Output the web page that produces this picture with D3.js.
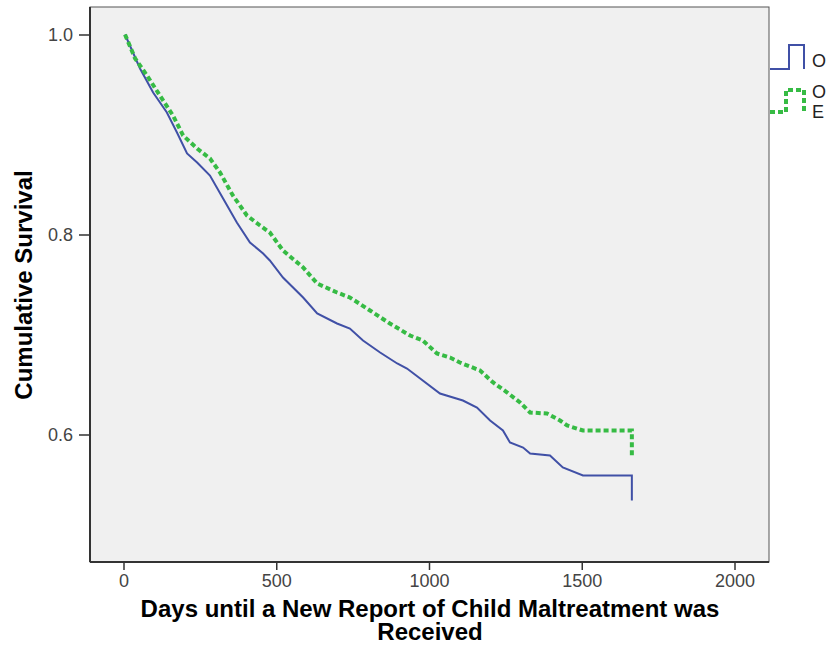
<!DOCTYPE html>
<html lang="en">
<head>
    <meta charset="UTF-8">
    <title>Cumulative Survival</title>
    <style>
        body { margin: 0; background: #fff; }
        text { font-family: "Liberation Sans", Arial, sans-serif; }
    </style>
</head>
<script src="https://d3js.org/d3.v7.min.js"></script>
<body>
    <div id="chart"></div>
</body>
<script>
const width = 828
const height = 663

// days / cumulative survival
const blueDays = [5, 54, 97, 142, 175, 208, 241, 283, 326, 371, 414, 457, 479, 522, 588, 634, 699, 741, 784, 840, 896, 928, 1036, 1111, 1157, 1200, 1242, 1265, 1308, 1331, 1396, 1438, 1504, 1664, 1664]
const blueSurv = [1.0, 0.966, 0.942, 0.922, 0.902, 0.881, 0.872, 0.859, 0.836, 0.812, 0.792, 0.781, 0.774, 0.757, 0.737, 0.721, 0.711, 0.706, 0.694, 0.682, 0.671, 0.666, 0.641, 0.634, 0.627, 0.614, 0.604, 0.592, 0.587, 0.581, 0.579, 0.567, 0.559, 0.559, 0.534]
const greenDays = [5, 38, 77, 119, 162, 195, 241, 283, 316, 358, 404, 447, 479, 522, 588, 634, 699, 741, 807, 872, 938, 980, 1026, 1069, 1101, 1167, 1210, 1256, 1298, 1331, 1386, 1429, 1452, 1504, 1664, 1664]
const greenSurv = [1.0, 0.976, 0.959, 0.939, 0.919, 0.899, 0.886, 0.876, 0.862, 0.839, 0.819, 0.809, 0.802, 0.784, 0.767, 0.751, 0.742, 0.737, 0.724, 0.711, 0.699, 0.694, 0.681, 0.677, 0.672, 0.664, 0.652, 0.642, 0.632, 0.622, 0.621, 0.614, 0.609, 0.604, 0.604, 0.579]
const xTicks = [0, 500, 1000, 1500, 2000]
const yTicks = [0.6, 0.8, 1.0]
const legendLabels = [["O"], ["O", "E"]]

const frame = {left: 90, top: 7, right: 769, bottom: 562}
const x = d3.scaleLinear().domain([0, 2000]).range([123.5, 734.5])
const y = d3.scaleLinear().domain([0.6, 1.0]).range([434.5, 34.5])

const svg = d3.select("#chart")
    .append("svg")
      .attr("width", width)
      .attr("height", height)

svg.append("rect")
    .attr("x", frame.left)
    .attr("y", frame.top)
    .attr("width", frame.right - frame.left)
    .attr("height", frame.bottom - frame.top)
    .attr("fill", "#f0f0f0")
    .attr("stroke", "#555")
    .attr("stroke-width", 1)

// axes
const xAxis = svg.append("g")
    .attr("transform", `translate(0,${frame.bottom})`)
    .call(d3.axisBottom(x).tickValues(xTicks).tickSize(8).tickPadding(4).tickFormat(d3.format("d")))
const yAxis = svg.append("g")
    .attr("transform", `translate(${frame.left},0)`)
    .call(d3.axisLeft(y).tickValues(yTicks).tickSize(11).tickPadding(6).tickFormat(d3.format(".1f")))
;[xAxis, yAxis].forEach(a => {
    a.select(".domain").remove()
    a.selectAll(".tick line").attr("stroke", "#333").attr("stroke-width", 1.5)
    a.selectAll(".tick text")
        .attr("fill", "#444")
        .style("font-size", "18px")
        .style("font-family", "'Liberation Sans', Arial, sans-serif")
})
svg.append("line")
    .attr("x1", frame.left).attr("x2", frame.left)
    .attr("y1", frame.top).attr("y2", frame.bottom)
    .attr("stroke", "#333").attr("stroke-width", 2)
svg.append("line")
    .attr("x1", frame.left).attr("x2", frame.right)
    .attr("y1", frame.bottom).attr("y2", frame.bottom)
    .attr("stroke", "#333").attr("stroke-width", 2)

// curves
const line = d3.line()
    .x(d => x(d[0]))
    .y(d => y(d[1]))
svg.append("path")
    .datum(d3.zip(blueDays, blueSurv))
    .attr("fill", "none")
    .attr("stroke", "#4050a6")
    .attr("stroke-width", 2)
    .attr("d", line)
svg.append("path")
    .datum(d3.zip(greenDays, greenSurv))
    .attr("fill", "none")
    .attr("stroke", "#36bb44")
    .attr("stroke-width", 4)
    .attr("stroke-dasharray", "5,3")
    .attr("d", line)

// axis titles
svg.append("text")
    .attr("transform", "translate(32,285) rotate(-90)")
    .attr("text-anchor", "middle")
    .style("font-size", "24px")
    .style("font-weight", "bold")
    .text("Cumulative Survival")
const xTitle = ["Days until a New Report of Child Maltreatment was", "Received"]
xTitle.forEach((t, i) => {
    svg.append("text")
        .attr("x", 430)
        .attr("y", 617 + i * 23)
        .attr("text-anchor", "middle")
        .style("font-size", "24px")
        .style("font-weight", "bold")
        .text(t)
})

// legend, cut by the right edge as in the picture
svg.append("path")
    .attr("d", "M770,69H789V45H804V69")
    .attr("fill", "none")
    .attr("stroke", "#4050a6")
    .attr("stroke-width", 2)
svg.append("path")
    .attr("d", "M770,112H786V90H804V112")
    .attr("fill", "none")
    .attr("stroke", "#36bb44")
    .attr("stroke-width", 4)
    .attr("stroke-dasharray", "5,3")
const legendY = [[67], [98, 118]]
legendLabels.forEach((lines, i) => {
    lines.forEach((t, j) => {
        svg.append("text")
            .attr("x", 812)
            .attr("y", legendY[i][j])
            .attr("fill", "#222")
            .style("font-size", "18px")
            .text(t)
    })
})
</script>
</html>
